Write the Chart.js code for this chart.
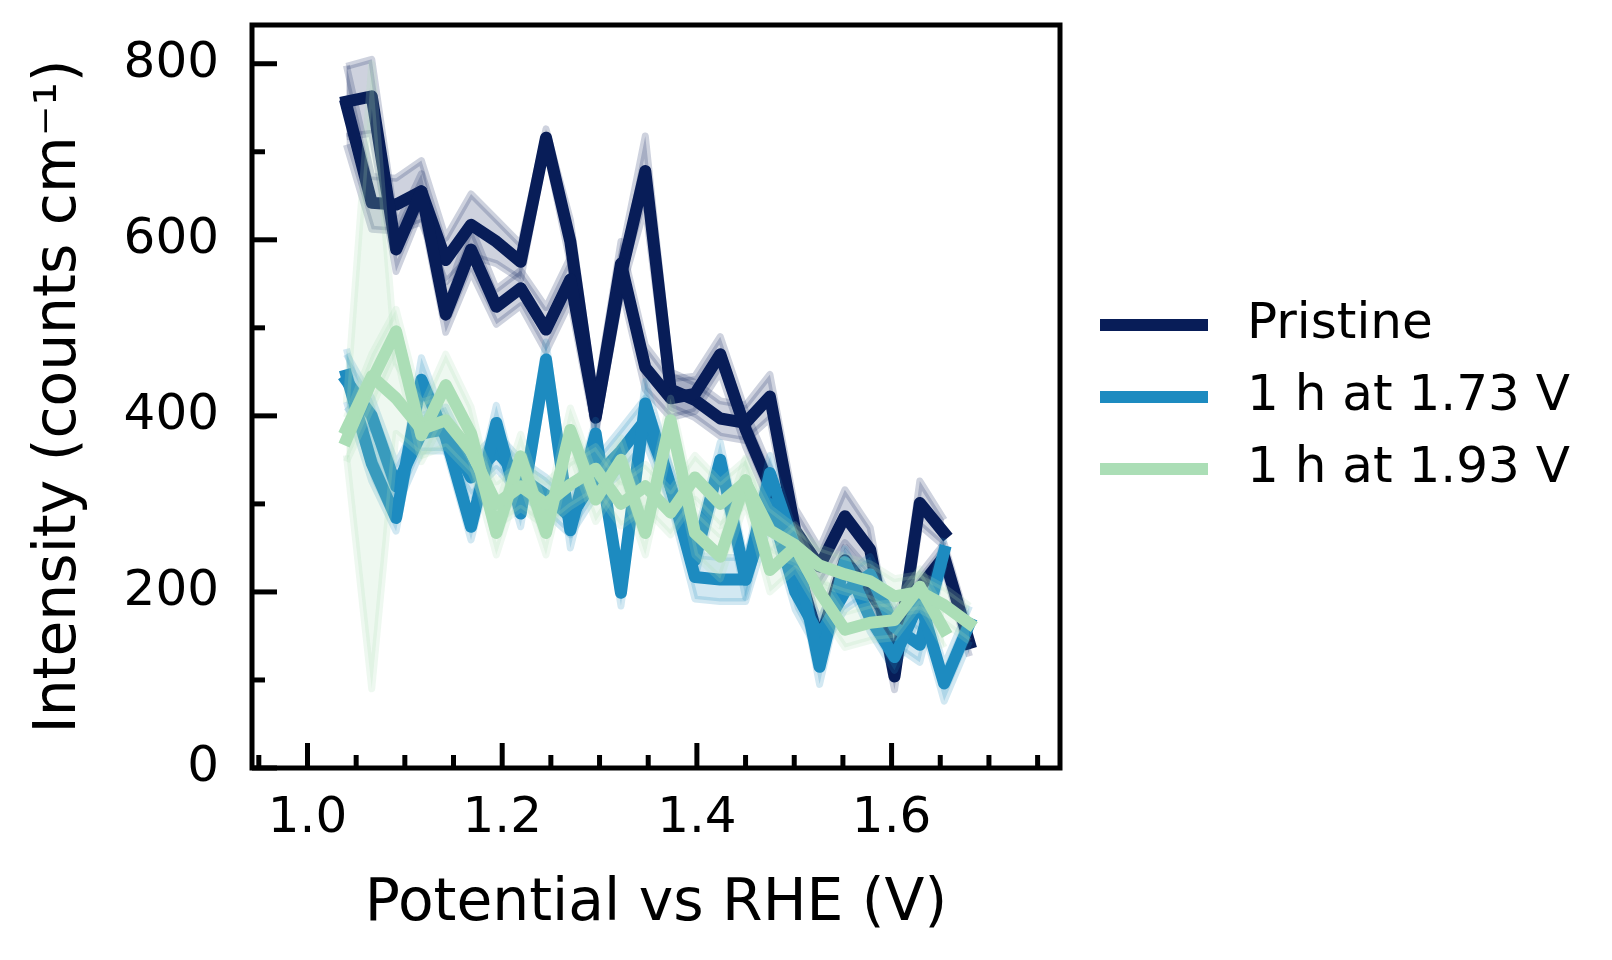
<!DOCTYPE html>
<html>
<head>
<meta charset="utf-8">
<script src="https://cdn.jsdelivr.net/npm/chart.js@4.4.1/dist/chart.umd.min.js"></script>
<style>
  html, body { margin: 0; padding: 0; background: #fff; }
  #wrap { width: 1612px; height: 960px; }
</style>
</head>
<body>
<div id="wrap"><canvas id="chart" width="1612" height="960"></canvas></div>
<script>
// potential grid (V vs RHE)
var potential = [1.040, 1.066, 1.091, 1.117, 1.142, 1.168, 1.194, 1.219, 1.245, 1.270, 1.296, 1.322, 1.347,
	1.373, 1.398, 1.424, 1.450, 1.475, 1.501, 1.526, 1.552, 1.578, 1.603, 1.629, 1.654, 1.680];

var labels = ['Pristine', '1 h at 1.73 V', '1 h at 1.93 V'];
var colors = ['#081d58', '#1d8bc0', '#abdeb6'];

// pristine
var pristineFwd = [757, 763, 589, 655, 515, 589, 524, 545, 498, 555, 400, 573, 455, 420, 425, 470, 385, 320, 236, 142, 236, 200, 160, 205, 240, 142];
var pristineFwdErr = [40, 42, 25, 20, 20, 25, 20, 20, 25, 25, 20, 25, 25, 22, 20, 20, 20, 20, 20, 20, 15, 15, 15, 15, 15, 15];
var pristineRev = [753, 642, 640, 655, 577, 617, 598, 575, 716, 598, 398, 560, 678, 430, 418, 397, 392, 422, 270, 229, 286, 248, 104, 301, 267];
var pristineRevErr = [45, 30, 30, 35, 25, 35, 25, 20, 10, 25, 15, 20, 40, 20, 20, 20, 20, 25, 25, 20, 30, 25, 15, 25, 15];

// 1 h at 1.73 V
var blueFwd = [446, 346, 284, 441, 376, 274, 392, 289, 464, 270, 380, 199, 414, 320, 236, 350, 214, 335, 250, 115, 234, 170, 126, 190, 96, 164];
var blueFwdErr = [30, 20, 15, 25, 15, 15, 20, 15, 20, 20, 15, 15, 25, 20, 20, 20, 20, 20, 15, 20, 15, 15, 15, 15, 20, 20];
var blueRev = [440, 400, 320, 380, 385, 330, 360, 330, 310, 285, 330, 360, 395, 320, 217, 214, 214, 300, 200, 150, 200, 220, 160, 140, 246];
var blueRevErr = [30, 20, 25, 20, 25, 20, 20, 20, 20, 20, 20, 25, 25, 20, 25, 25, 25, 20, 20, 20, 20, 20, 20, 20, 15];

// 1 h at 1.93 V
var greenFwd = [385, 445, 420, 385, 395, 360, 300, 320, 300, 322, 340, 300, 320, 290, 330, 300, 325, 270, 253, 230, 220, 212, 195, 200, 185, 164];
var greenFwdErr = [30, 355, 40, 30, 30, 25, 25, 25, 25, 25, 25, 25, 25, 25, 25, 25, 25, 25, 20, 20, 20, 20, 20, 20, 20, 20];
var greenRev = [373, 440, 496, 378, 435, 380, 267, 354, 267, 384, 305, 350, 267, 395, 267, 240, 327, 225, 251, 200, 157, 165, 168, 206, 157];
var greenRevErr = [25, 30, 25, 30, 35, 30, 25, 25, 25, 25, 25, 25, 25, 25, 25, 25, 25, 25, 25, 20, 20, 20, 20, 20, 20];

const FONT = "'DejaVu Sans', sans-serif";

const hexA = (hex, a) => {
	let n = parseInt(hex.slice(1), 16);
	return `rgba(${(n >> 16) & 255},${(n >> 8) & 255},${n & 255},${a})`;
};

// line + shaded band (three datasets: upper, lower, line)
const make_line = (ys, errs, color, order) => {
	let up = ys.map((y, i) => ({ x: potential[i], y: y + errs[i] }));
	let lo = ys.map((y, i) => ({ x: potential[i], y: y - errs[i] }));
	let mid = ys.map((y, i) => ({ x: potential[i], y: y }));
	return [
		{ data: up, borderColor: hexA(color, 0.2), backgroundColor: hexA(color, 0.2), borderWidth: 7, fill: '+1', order: order + 1, pointRadius: 0, borderJoinStyle: 'round' },
		{ data: lo, borderColor: hexA(color, 0.2), borderWidth: 7, fill: false, order: order + 1, pointRadius: 0, borderJoinStyle: 'round' },
		{ data: mid, borderColor: color, borderWidth: 12, fill: false, order: order, pointRadius: 0, borderJoinStyle: 'round', borderCapStyle: 'square' }
	];
};

let datasets = [].concat(
	make_line(pristineFwd, pristineFwdErr, colors[0], 60),
	make_line(pristineRev, pristineRevErr, colors[0], 60),
	make_line(blueFwd, blueFwdErr, colors[1], 40),
	make_line(blueRev, blueRevErr, colors[1], 40),
	make_line(greenFwd, greenFwdErr, colors[2], 20),
	make_line(greenRev, greenRevErr, colors[2], 20)
);

// frame, inward ticks and legend
const axesDeco = {
	id: 'axesDeco',
	afterDraw(chart) {
		const ctx = chart.ctx;
		const a = chart.chartArea;
		ctx.save();
		ctx.strokeStyle = '#000';
		ctx.lineWidth = 5;
		ctx.lineCap = 'butt';
		let xs = chart.scales.x, ys = chart.scales.y;
		xs.ticks.forEach(t => {
			let px = xs.getPixelForValue(t.value);
			let len = t.label ? 25 : 13;
			ctx.beginPath(); ctx.moveTo(px, a.bottom); ctx.lineTo(px, a.bottom - len); ctx.stroke();
		});
		ys.ticks.forEach(t => {
			let py = ys.getPixelForValue(t.value);
			let len = t.label ? 25 : 13;
			ctx.beginPath(); ctx.moveTo(a.left, py); ctx.lineTo(a.left + len, py); ctx.stroke();
		});
		ctx.strokeRect(a.left, a.top, a.right - a.left, a.bottom - a.top);

		// legend
		ctx.font = '50px ' + FONT;
		ctx.textBaseline = 'middle';
		ctx.fillStyle = '#000';
		labels.forEach((lab, i) => {
			let y = 325 + i * 72;
			ctx.strokeStyle = colors[i];
			ctx.lineWidth = 12;
			ctx.beginPath(); ctx.moveTo(1100, y); ctx.lineTo(1208, y); ctx.stroke();
			ctx.fillText(lab, 1247, y);
		});
		ctx.restore();
	}
};

new Chart(document.getElementById('chart'), {
	type: 'line',
	data: { datasets: datasets },
	options: {
		responsive: false,
		animation: false,
		devicePixelRatio: 1,
		layout: { padding: { top: 25, right: 552, left: 0, bottom: 0 } },
		elements: { line: { tension: 0 } },
		plugins: {
			legend: { display: false },
			tooltip: { enabled: false }
		},
		scales: {
			x: {
				type: 'linear',
				min: 0.943,
				max: 1.773,
				grid: { display: false, drawTicks: false },
				border: { display: false },
				ticks: {
					stepSize: 0.05,
					includeBounds: false,
					autoSkip: false,
					maxRotation: 0,
					padding: 21,
					color: '#000',
					font: { family: FONT, size: 50 },
					callback: (v) => (Math.round(v * 100) % 20 === 0 ? v.toFixed(1) : '')
				},
				title: {
					display: true,
					text: 'Potential vs RHE (V)',
					color: '#000',
					font: { family: FONT, size: 58.3 },
					padding: { top: 0, bottom: 20 }
				},
				afterFit: (s) => { s.height = 192; s.paddingLeft = 0; s.paddingRight = 0; }
			},
			y: {
				min: 0,
				max: 844,
				grid: { display: false, drawTicks: false },
				border: { display: false },
				ticks: {
					stepSize: 100,
					includeBounds: false,
					autoSkip: false,
					padding: 33,
					color: '#000',
					font: { family: FONT, size: 50 },
					callback: (v) => (v % 200 === 0 ? String(v) : '')
				},
				title: {
					display: true,
					text: 'Intensity (counts cm\u207B\u00B9)',
					color: '#000',
					font: { family: FONT, size: 58.3 },
					padding: { top: 25, bottom: 0 }
				},
				afterFit: (s) => { s.width = 252; s.paddingTop = 0; s.paddingBottom = 0; }
			}
		}
	},
	plugins: [axesDeco]
});
</script>
</body>
</html>
